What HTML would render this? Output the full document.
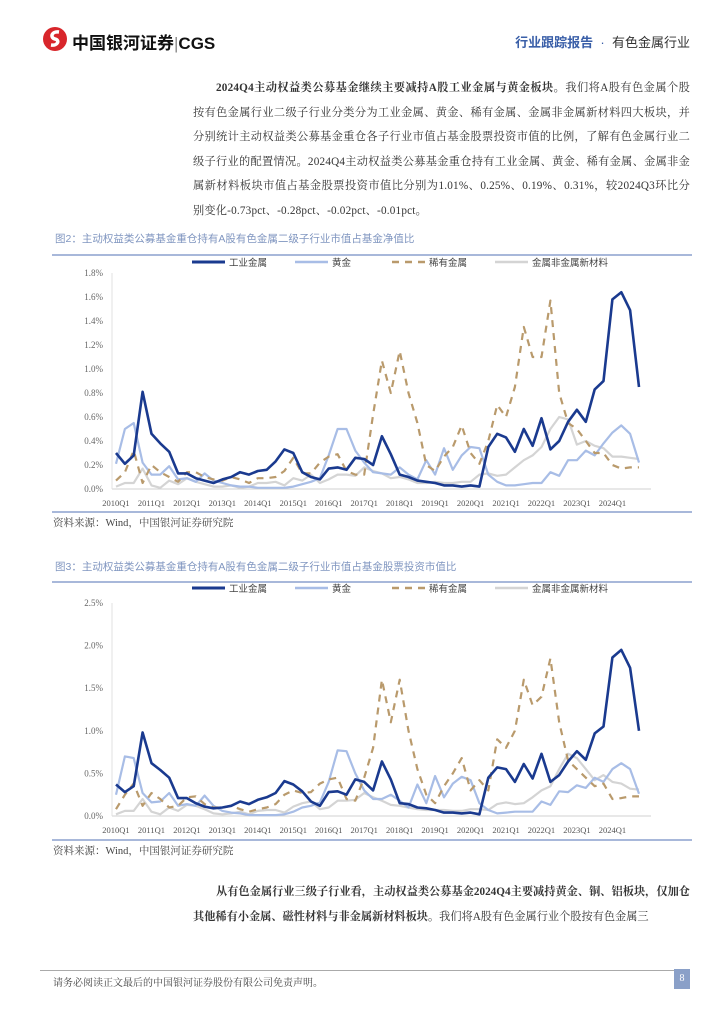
<!DOCTYPE html>
<html><head><meta charset="utf-8">
<style>
body{margin:0;width:724px;height:1024px;background:#fff;position:relative;overflow:hidden;font-family:"Liberation Serif","Noto Serif CJK SC",serif;color:#333}
.abs{position:absolute}
.p{font-size:11.2px;line-height:24.5px;letter-spacing:0.2px;text-align:justify}
.ttl{font-size:10.5px;color:#8096c0;font-family:"Liberation Sans","Noto Sans CJK SC",sans-serif}
.rule{height:2px;background:#a8b8da}
.src{font-size:10.5px;color:#444}
</style></head><body>
<div class="abs" style="left:40px;top:26px;width:650px;height:30px">
<svg class="abs" style="left:2px;top:0" width="26" height="26" viewBox="0 0 26 26"><circle cx="13" cy="13" r="12" fill="#d8262b"/><path d="M17 6 C9 5 8 12 13 13 C18 14 16 20 9 19" stroke="#fff" stroke-width="3.5" fill="none"/></svg>
<div class="abs" style="left:32px;top:3px;font:bold 17px 'Liberation Sans','Noto Sans CJK SC',sans-serif;color:#111">中国银河证券<span style="font-weight:normal;color:#888">|</span>CGS</div>
<div class="abs" style="right:0;top:6px;font-size:13px;font-family:'Liberation Sans','Noto Sans CJK SC',sans-serif"><b style="color:#3a5fa8">行业跟踪报告</b> <span style="color:#3a5fa8">&nbsp;·&nbsp;</span> 有色金属行业</div>
</div>
<div class="abs p" style="left:193px;top:76px;width:497px;text-indent:23px"><b>2024Q4主动权益类公募基金继续主要减持A股工业金属与黄金板块。</b>我们将A股有色金属个股按有色金属行业二级子行业分类分为工业金属、黄金、稀有金属、金属非金属新材料四大板块，并分别统计主动权益类公募基金重仓各子行业市值占基金股票投资市值的比例，了解有色金属行业二级子行业的配置情况。2024Q4主动权益类公募基金重仓持有工业金属、黄金、稀有金属、金属非金属新材料板块市值占基金股票投资市值比分别为1.01%、0.25%、0.19%、0.31%，较2024Q3环比分别变化-0.73pct、-0.28pct、-0.02pct、-0.01pct。</div>

<div class="abs ttl" style="left:55px;top:231px">图2：主动权益类公募基金重仓持有A股有色金属二级子行业市值占基金净值比</div>
<div class="abs rule" style="left:52px;top:254px;width:640px"></div>
<div class="abs rule" style="left:52px;top:511px;width:640px"></div>
<div class="abs src" style="left:53px;top:515px">资料来源：Wind，中国银河证券研究院</div>

<div class="abs ttl" style="left:55px;top:559px">图3：主动权益类公募基金重仓持有A股有色金属二级子行业市值占基金股票投资市值比</div>
<div class="abs rule" style="left:52px;top:581px;width:640px"></div>
<div class="abs rule" style="left:52px;top:839px;width:640px"></div>
<div class="abs src" style="left:53px;top:843px">资料来源：Wind，中国银河证券研究院</div>

<div class="abs p" style="left:193px;top:880px;width:497px;text-indent:23px;letter-spacing:0"><b>从有色金属行业三级子行业看，主动权益类公募基金2024Q4主要减持黄金、铜、铝板块，仅加仓其他稀有小金属、磁性材料与非金属新材料板块。</b>我们将A股有色金属行业个股按有色金属三</div>

<div class="abs rule" style="left:40px;top:970px;width:650px;height:1px;background:#aaa"></div>
<div class="abs src" style="left:53px;top:974px;font-size:10px">请务必阅读正文最后的中国银河证券股份有限公司免责声明。</div>
<div class="abs" style="left:674px;top:969px;width:16px;height:20px;background:#8aa0c8;color:#fff;font-size:10px;text-align:center;line-height:20px">8</div>

<svg class="abs" id="svg" style="left:0;top:0" width="724" height="1024"></svg>
<script>
const categories=[];for(let y=2010;y<=2024;y++)for(let q=1;q<=4;q++)categories.push(y+'Q'+q);
const seriesNames=['工业金属','黄金','稀有金属','金属非金属新材料'];
const tickLabels=['2010Q1','2011Q1','2012Q1','2013Q1','2014Q1','2015Q1','2016Q1','2017Q1','2018Q1','2019Q1','2020Q1','2021Q1','2022Q1','2023Q1','2024Q1'];
const c1Yticks=[0,0.2,0.4,0.6,0.8,1.0,1.2,1.4,1.6,1.8];
const c2Yticks=[0,0.5,1.0,1.5,2.0,2.5];
const c1Industrial=[.30,.21,.28,.81,.46,.38,.31,.13,.13,.09,.07,.05,.08,.10,.14,.12,.15,.16,.23,.33,.30,.14,.10,.08,.17,.18,.16,.26,.25,.20,.44,.29,.12,.10,.07,.06,.05,.03,.03,.02,.03,.02,.35,.46,.43,.31,.50,.36,.59,.33,.40,.56,.66,.56,.83,.90,1.58,1.64,1.49,.85];
const c1Gold=[.21,.50,.55,.22,.12,.12,.19,.08,.09,.06,.13,.07,.05,.03,.02,.02,.01,.01,.01,.01,.02,.04,.06,.09,.28,.50,.50,.32,.22,.14,.13,.12,.18,.12,.08,.24,.12,.34,.16,.28,.35,.34,.12,.06,.03,.03,.04,.05,.05,.14,.11,.24,.24,.32,.28,.38,.47,.53,.46,.22];
const c1Rare=[.07,.14,.32,.05,.20,.14,.10,.06,.14,.14,.10,.08,.07,.10,.08,.05,.09,.09,.10,.15,.26,.13,.13,.22,.27,.29,.15,.12,.12,.62,1.07,.80,1.15,.80,.55,.20,.15,.27,.35,.53,.30,.21,.40,.70,.60,.85,1.35,1.10,1.10,1.57,.80,.55,.50,.40,.30,.30,.20,.17,.18,.18];
const c1Material=[.02,.05,.05,.17,.03,.01,.07,.04,.09,.06,.04,.02,.02,.03,.01,.02,.05,.05,.06,.03,.09,.07,.12,.05,.08,.12,.12,.11,.18,.15,.13,.09,.10,.08,.05,.05,.06,.05,.05,.06,.06,.12,.13,.11,.12,.18,.24,.28,.35,.50,.60,.58,.37,.40,.36,.34,.27,.27,.26,.25];
const c2Industrial=[.37,.28,.35,.98,.62,.54,.45,.21,.21,.15,.11,.09,.10,.12,.17,.14,.19,.22,.27,.41,.37,.29,.17,.12,.28,.29,.25,.43,.40,.30,.64,.43,.15,.14,.10,.09,.07,.04,.04,.03,.04,.02,.45,.57,.55,.40,.61,.44,.73,.40,.48,.64,.76,.66,.97,1.05,1.86,1.95,1.74,1.00];
const c2Gold=[.25,.70,.68,.27,.16,.17,.27,.12,.14,.12,.24,.12,.06,.04,.03,.01,.01,.01,.01,.02,.05,.10,.12,.16,.40,.77,.76,.50,.30,.20,.20,.25,.18,.10,.37,.15,.47,.22,.38,.46,.42,.15,.07,.03,.04,.05,.05,.05,.17,.13,.29,.28,.36,.33,.45,.40,.55,.62,.55,.26];
const c2Rare=[.08,.25,.38,.12,.27,.20,.10,.12,.22,.23,.14,.10,.10,.12,.08,.05,.08,.10,.14,.25,.30,.27,.28,.38,.43,.45,.20,.18,.45,.80,1.60,1.10,1.60,1.00,.55,.25,.15,.35,.50,.68,.30,.42,.30,.90,.80,1.00,1.60,1.30,1.40,1.85,1.10,.65,.55,.45,.35,.38,.20,.21,.23,.23];
const c2Material=[.02,.06,.06,.20,.05,.02,.10,.06,.13,.12,.08,.03,.02,.03,.05,.02,.06,.07,.07,.04,.11,.15,.17,.08,.10,.18,.18,.19,.27,.22,.18,.13,.12,.10,.08,.07,.07,.07,.06,.06,.08,.08,.07,.14,.16,.14,.15,.22,.30,.35,.55,.73,.68,.55,.42,.48,.40,.38,.32,.31];

const NS='http://www.w3.org/2000/svg';
const svg=document.getElementById('svg');
function mk(tag,attrs,parent){const e=document.createElementNS(NS,tag);for(const k in attrs)e.setAttribute(k,attrs[k]);(parent||svg).appendChild(e);return e;}
const styles=[{c:'#1a3a8f',w:2.6,d:''},{c:'#a8bde6',w:2.2,d:''},{c:'#b99a6c',w:2.2,d:'7,6'},{c:'#d4d4d4',w:2.2,d:''}];
function drawChart(id,top,bottom,ymax,yticks,series,legY){
  const x0=116,x1=639;
  const g=mk('g',{});
  
  
  const xs=i=>x0+(x1-x0)*i/(categories.length-1);
  const ys=v=>bottom-(bottom-top)*v/ymax;
  const ax=mk('line',{x1:112,x2:651,y1:bottom,y2:bottom,stroke:'#d0d0d0','stroke-width':1},g);
  
  
  const ay=mk('line',{x1:112,x2:112,y1:top,y2:bottom,stroke:'#e0e0e0','stroke-width':1},g);
  
  
  yticks.forEach(v=>{const t=mk('text',{x:103,y:ys(v)+3,'text-anchor':'end','font-size':9,fill:'#666','font-family':'Liberation Serif'},g);t.textContent=v.toFixed(1)+'%';
    
    });
  tickLabels.forEach(lab=>{const i=categories.indexOf(lab);const t=mk('text',{x:xs(i),y:bottom+17,'text-anchor':'middle','font-size':8.5,fill:'#555','font-family':'Liberation Serif'},g);t.textContent=lab;
    
    });
  const order=[3,1,2,0];
  order.forEach(si=>{const s=styles[si];const pts=series[si].map((v,i)=>xs(i).toFixed(1)+','+ys(v).toFixed(1)).join(' ');
    const p=mk('polyline',{points:pts,fill:'none',stroke:s.c,'stroke-width':s.w,'stroke-dasharray':s.d,'stroke-linejoin':'round'},g);
    
    });
  const lx=[192,295,392,495];
  seriesNames.forEach((n,si)=>{const s=styles[si];
    const l=mk('line',{x1:lx[si],x2:lx[si]+33,y1:legY,y2:legY,stroke:s.c,'stroke-width':s.w+0.4,'stroke-dasharray':s.d},g);
    
    
    const t=mk('text',{x:lx[si]+37,y:legY+4,'font-size':9.5,fill:'#444','font-family':'Liberation Sans, Noto Sans CJK SC, sans-serif'},g);t.textContent=n;
    
    });
}
drawChart('chart-1',273,489,1.8,c1Yticks,[c1Industrial,c1Gold,c1Rare,c1Material],262);
drawChart('chart-2',603,816,2.5,c2Yticks,[c2Industrial,c2Gold,c2Rare,c2Material],588);
</script>
</body></html>
